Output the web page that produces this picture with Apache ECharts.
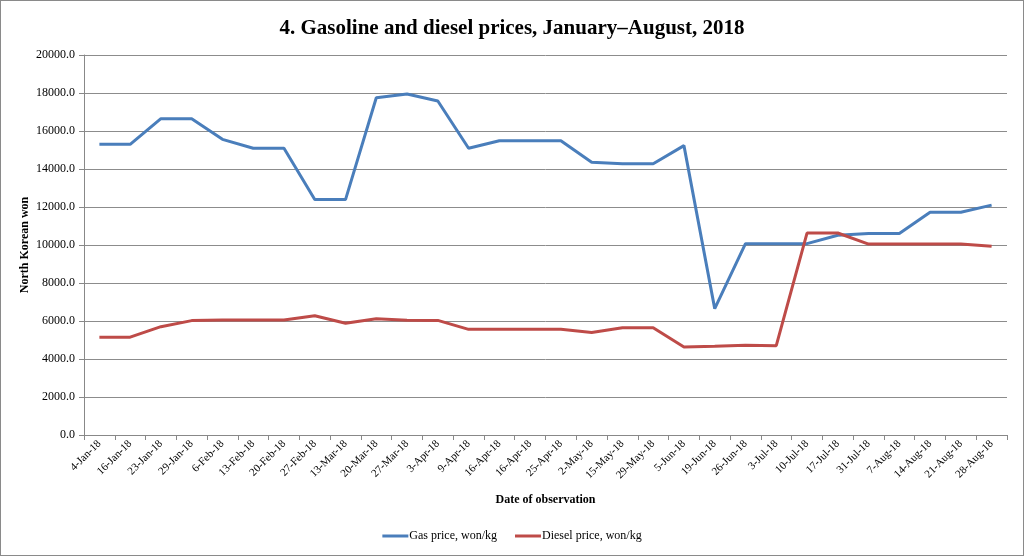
<!DOCTYPE html>
<html>
<head>
<meta charset="utf-8">
<script src="https://cdn.jsdelivr.net/npm/echarts@6/dist/echarts.min.js"></script>
<style>
html,body{margin:0;padding:0;background:#fff;}
#c{width:1024px;height:556px;box-sizing:border-box;border:1px solid #8a8a8a;}
</style>
</head>
<body>
<div id="c"></div>
<script>
const categories = ['4-Jan-18','16-Jan-18','23-Jan-18','29-Jan-18','6-Feb-18','13-Feb-18','20-Feb-18','27-Feb-18','13-Mar-18','20-Mar-18','27-Mar-18','3-Apr-18','9-Apr-18','16-Apr-18','16-Apr-18','25-Apr-18','2-May-18','15-May-18','29-May-18','5-Jun-18','19-Jun-18','26-Jun-18','3-Jul-18','10-Jul-18','17-Jul-18','31-Jul-18','7-Aug-18','14-Aug-18','21-Aug-18','28-Aug-18'];
const gasPrice = [15300,15300,16650,16650,15560,15090,15090,12390,12390,17750,17950,17580,15090,15490,15490,15490,14350,14280,14280,15230,6650,10070,10070,10070,10510,10600,10600,11720,11720,12100];
const dieselPrice = [5150,5150,5700,6020,6050,6050,6050,6280,5880,6120,6040,6030,5560,5560,5560,5560,5400,5650,5650,4630,4670,4720,4700,10630,10630,10050,10050,10050,10050,9930];
const seriesNames = ['Gas price, won/kg','Diesel price, won/kg'];

const serif = '"Liberation Serif","Times New Roman",serif';
const chart = echarts.init(document.getElementById('c'));
chart.setOption({
  animation:false,
  title:{text:'4. Gasoline and diesel prices, January\u2013August, 2018',left:'center',top:12,
    textStyle:{fontFamily:serif,fontSize:21,fontWeight:'bold',color:'#000'}},
  grid:{left:83,right:16,top:54,bottom:120},
  legend:{bottom:8,left:'center',itemWidth:26,itemHeight:3,itemGap:18,icon:'rect',
    textStyle:{fontFamily:serif,fontSize:12,color:'#000',padding:[0,0,0,-4]},data:seriesNames},
  xAxis:{type:'category',data:categories,boundaryGap:true,
    name:'Date of observation',nameLocation:'middle',nameGap:59,
    nameTextStyle:{fontFamily:serif,fontSize:12,fontWeight:'bold',color:'#000'},
    axisLine:{lineStyle:{color:'#888',width:1}},
    axisTick:{show:true,alignWithLabel:false,length:5,lineStyle:{color:'#888'}},
    axisLabel:{rotate:45,interval:0,fontFamily:serif,fontSize:11,color:'#000',margin:7}},
  yAxis:{type:'value',min:0,max:20000,interval:2000,
    name:'North Korean won',nameLocation:'middle',nameGap:53,nameRotate:90,nameMoveOverlap:false,
    nameTextStyle:{fontFamily:serif,fontSize:12,fontWeight:'bold',color:'#000'},
    axisLine:{show:true,lineStyle:{color:'#888'}},
    axisTick:{show:true,length:5,inside:false,lineStyle:{color:'#888'}},
    splitLine:{lineStyle:{color:'#8c8c8c',width:1}},
    axisLabel:{fontFamily:serif,fontSize:12,color:'#000',margin:9,formatter:v=>v.toFixed(1)}},
  series:[
    {name:seriesNames[0],type:'line',data:gasPrice,symbol:'none',color:'#4a7ebb',lineStyle:{width:3,color:'#4a7ebb'}},
    {name:seriesNames[1],type:'line',data:dieselPrice,symbol:'none',color:'#be4b48',lineStyle:{width:3,color:'#be4b48'}}
  ]
});
</script>
</body>
</html>
